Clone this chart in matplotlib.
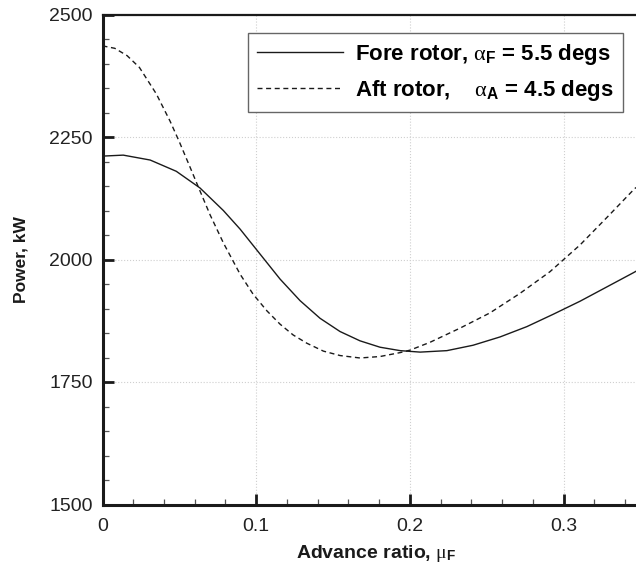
import matplotlib
matplotlib.use("Agg")
import matplotlib.pyplot as plt
from matplotlib.ticker import MultipleLocator, FixedLocator

plt.rcParams['font.family'] = ['Liberation Sans', 'DejaVu Sans']
plt.rcParams['mathtext.fontset'] = 'custom'
plt.rcParams['mathtext.rm'] = 'Liberation Sans'
plt.rcParams['mathtext.it'] = 'Liberation Serif'
plt.rcParams['mathtext.bf'] = 'Liberation Sans:bold'

# Fore rotor power vs advance ratio
fore_mu = [0.0, 0.0135, 0.031, 0.048, 0.0634, 0.0786, 0.0895, 0.1025,
           0.1155, 0.1285, 0.1415, 0.1545, 0.1675, 0.1805, 0.1936, 0.2066,
           0.224, 0.241, 0.2586, 0.276, 0.293, 0.3107, 0.328, 0.3453, 0.347]
fore_power = [2211, 2213, 2203, 2180, 2146, 2100, 2062, 2011,
              1960, 1916, 1880, 1853, 1834, 1821, 1814, 1811,
              1814, 1825, 1842, 1863, 1888, 1915, 1944, 1973, 1976]

# Aft rotor power vs advance ratio
aft_mu = [0.0, 0.008, 0.016, 0.024, 0.035, 0.044, 0.050, 0.057, 0.0634,
          0.070, 0.0786, 0.0895, 0.098, 0.107, 0.1155, 0.124, 0.133, 0.1437,
          0.1545, 0.1675, 0.1805, 0.1936, 0.2, 0.213, 0.2326, 0.252, 0.2716,
          0.291, 0.3107, 0.330, 0.3453, 0.347]
aft_power = [2436, 2431, 2416, 2392, 2338, 2282, 2240, 2188, 2140,
             2091, 2034, 1970, 1929, 1895, 1868, 1846, 1829, 1813,
             1804, 1799, 1802, 1810, 1815, 1831, 1860, 1891, 1931,
             1975, 2030, 2092, 2142, 2147]

x_major = [0.0, 0.1, 0.2, 0.3]
x_labels = ['0', '0.1', '0.2', '0.3']
y_major = [1500, 1750, 2000, 2250, 2500]

fore_label = r'Fore rotor, $\alpha_{\mathbf{F}}$ = 5.5 degs'
aft_label = r'Aft rotor,    $\alpha_{\mathbf{A}}$ = 4.5 degs'

W, H = 636, 569
fig = plt.figure(figsize=(W / 100, H / 100), dpi=100)
left_px, bottom_px, top_px = 102.5, 504.5, 14.5
ax = fig.add_axes([left_px / W, 1 - bottom_px / H, (W - left_px) / W,
                   (bottom_px - top_px) / H])

ink = '#1a1a1a'
ax.plot(fore_mu, fore_power, color=ink, lw=1.0, label=fore_label)
ax.plot(aft_mu, aft_power, color=ink, lw=1.0, linestyle=(0, (3.6, 2.6)),
        label=aft_label)

ax.set_xlim(0, 0.347)
ax.set_ylim(1500, 2500)

ax.xaxis.set_major_locator(FixedLocator(x_major))
ax.set_xticklabels(x_labels)
ax.xaxis.set_minor_locator(MultipleLocator(0.02))
ax.yaxis.set_major_locator(FixedLocator(y_major))
ax.yaxis.set_minor_locator(MultipleLocator(50))

ax.tick_params(which='both', direction='in', top=False, right=False,
               colors=ink, labelcolor='#222222')
ax.tick_params(which='major', length=8, width=2.0, labelsize=14)
ax.tick_params(axis='x', which='major', pad=10)
ax.tick_params(axis='y', which='major', pad=7)
ax.tick_params(which='minor', length=4.5, width=0.9, color='#555555')

ax.grid(True, which='major', linestyle=':', color='#cfcfcf', linewidth=0.8)

ax.spines['right'].set_visible(False)
ax.spines['left'].set_linewidth(2.2)
ax.spines['bottom'].set_linewidth(2.2)
ax.spines['top'].set_linewidth(1.6)
for s in ('left', 'bottom', 'top'):
    ax.spines[s].set_color(ink)

ax.set_xlabel(r'Advance ratio, $\mu_{\mathbf{F}}$', fontsize=14,
              fontweight='bold', color=ink)
ax.set_ylabel('Power, kW', fontsize=12.5, fontweight='bold', color=ink)
ax.xaxis.set_label_coords((376 - left_px) / (W - left_px),
                          (bottom_px - 543) / (bottom_px - top_px))
ax.yaxis.set_label_coords((28 - left_px) / (W - left_px), 0.5)

leg = ax.legend(loc='upper right', bbox_to_anchor=(623 / W, 1 - 33 / H),
                bbox_transform=fig.transFigure, borderaxespad=0,
                prop={'weight': 'bold', 'size': 16}, handlelength=3.9,
                handletextpad=0.55, borderpad=0.4, labelspacing=0.5,
                fancybox=False, framealpha=1, edgecolor='#666666')
leg.get_frame().set_linewidth(1.0)

fig.savefig('out.png', dpi=100)
